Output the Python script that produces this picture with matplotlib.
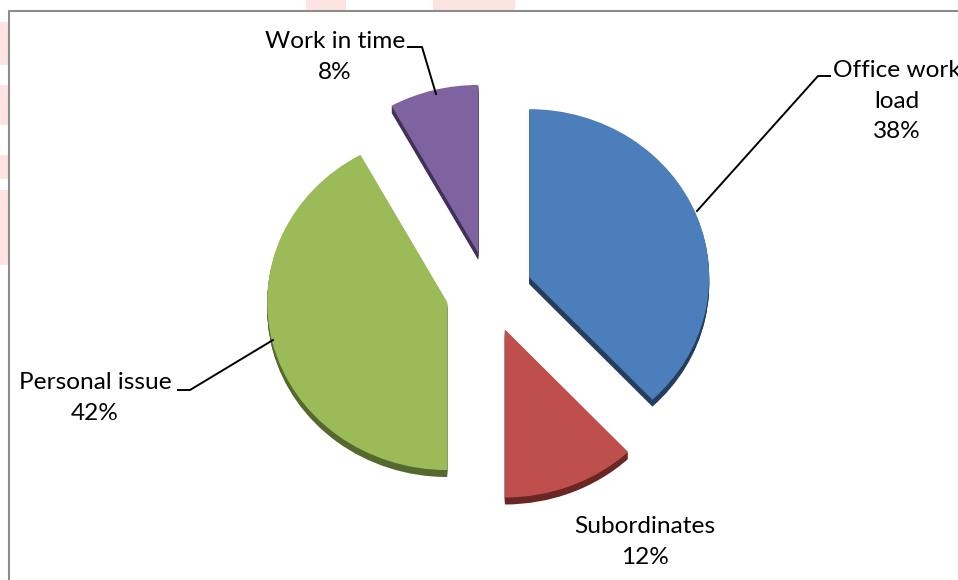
import matplotlib.pyplot as plt
from matplotlib.patches import Rectangle

# data
labels = ['Office work\nload', 'Subordinates', 'Personal issue', 'Work in time']
shares = [38, 12, 42, 8]
colors = ['#4C7EBB', '#BE4F4C', '#9BBB59', '#7F63A1']
dark = ['#233E5E', '#6A2624', '#55692E', '#40305A']

W, H = 958, 580
cx, cy = 489, 292        # pie centre in pixels
rx, ry = 180, 168        # tilted look: a bit squashed
depth = 7

fig = plt.figure(figsize=(W / 100, H / 100), dpi=100)

# background: frame and the faint pink shapes of the page
bg = fig.add_axes([0, 0, 1, 1], zorder=0)
bg.set_xlim(0, W)
bg.set_ylim(H, 0)
bg.axis('off')
for x0, y0, w, h in [(0, 22, 8, 43), (0, 85, 8, 40), (0, 155, 8, 24), (0, 190, 8, 75),
                     (306, 0, 40, 10), (433, 0, 82, 10)]:
    bg.add_patch(Rectangle((x0, y0), w, h, color='#FDE4E2', lw=0))
bg.plot([9, 9, W + 5], [H + 5, 11, 11], color='#8C8C8C', lw=1.5)

# pie in units of the radius
ax = fig.add_axes([0, 0, 1, 1], zorder=1)
explode = [0.24] * len(shares)
for k in range(depth, 0, -1):
    ax.pie(shares, explode=explode, colors=dark, startangle=90, counterclock=False,
           center=(0, -k / ry), wedgeprops=dict(linewidth=0))
ax.pie(shares, explode=explode, colors=colors, startangle=90, counterclock=False,
       wedgeprops=dict(linewidth=0))
ax.set_aspect('auto')
ax.set_xlim(-cx / rx, (W - cx) / rx)
ax.set_ylim((cy - H) / ry, cy / ry)
ax.axis('off')

# labels and leader lines, in pixels
top = fig.add_axes([0, 0, 1, 1], zorder=2)
top.set_xlim(0, W)
top.set_ylim(H, 0)
top.axis('off')
top.patch.set_alpha(0)

font = dict(family=['Lato', 'DejaVu Sans'], fontsize=17.6, color='black',
            ha='center', va='center', linespacing=1.55)
pos = [(897, 101), (645, 542), (95, 398), (335, 57)]
for lab, v, (x, y) in zip(labels, shares, pos):
    top.text(x, y, f'{lab}\n{v}%', **font)

lk = dict(color='black', lw=1.4)
top.plot([830, 818, 697], [76, 76, 211], **lk)
top.plot([408, 422, 436], [47, 47, 94], **lk)
top.plot([178, 190, 273], [390, 390, 340], **lk)

fig.savefig('out.png', dpi=100)
